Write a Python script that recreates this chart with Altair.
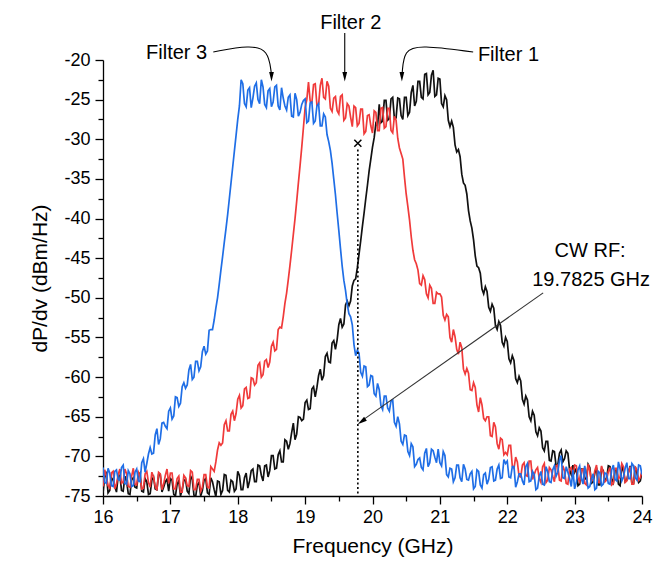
import altair as alt
import pandas as pd

# ---------------- data ----------------
# samples on the 0.05 GHz grid
FREQ = [
    16.0, 16.05, 16.1, 16.15, 16.2, 16.25, 16.3, 16.35, 16.4, 16.45, 16.5, 16.55, 16.6, 16.65, 16.7, 16.75, 16.8, 16.85, 16.9, 16.95,
    17.0, 17.05, 17.1, 17.15, 17.2, 17.25, 17.3, 17.35, 17.4, 17.45, 17.5, 17.55, 17.6, 17.65, 17.7, 17.75, 17.8, 17.85, 17.9, 17.95,
    18.0, 18.05, 18.1, 18.15, 18.2, 18.25, 18.3, 18.35, 18.4, 18.45, 18.5, 18.55, 18.6, 18.65, 18.7, 18.75, 18.8, 18.85, 18.9, 18.95,
    19.0, 19.05, 19.1, 19.15, 19.2, 19.25, 19.3, 19.35, 19.4, 19.45, 19.5, 19.55, 19.6, 19.65, 19.7, 19.75, 19.8, 19.85, 19.9, 19.95,
    20.0, 20.05, 20.1, 20.15, 20.2, 20.25, 20.3, 20.35, 20.4, 20.45, 20.5, 20.55, 20.6, 20.65, 20.7, 20.75, 20.8, 20.85, 20.9, 20.95,
    21.0, 21.05, 21.1, 21.15, 21.2, 21.25, 21.3, 21.35, 21.4, 21.45, 21.5, 21.55, 21.6, 21.65, 21.7, 21.75, 21.8, 21.85, 21.9, 21.95,
    22.0, 22.05, 22.1, 22.15, 22.2, 22.25, 22.3, 22.35, 22.4, 22.45, 22.5, 22.55, 22.6, 22.65, 22.7, 22.75, 22.8, 22.85, 22.9, 22.95,
    23.0, 23.05, 23.1, 23.15, 23.2, 23.25, 23.3, 23.35, 23.4, 23.45, 23.5, 23.55, 23.6, 23.65, 23.7, 23.75, 23.8, 23.85, 23.9, 23.95,
    24.0,
]
# samples half-way between them
FREQ_MID = [
    16.025, 16.075, 16.125, 16.175, 16.225, 16.275, 16.325, 16.375, 16.425, 16.475, 16.525, 16.575, 16.625, 16.675, 16.725, 16.775, 16.825, 16.875, 16.925, 16.975,
    17.025, 17.075, 17.125, 17.175, 17.225, 17.275, 17.325, 17.375, 17.425, 17.475, 17.525, 17.575, 17.625, 17.675, 17.725, 17.775, 17.825, 17.875, 17.925, 17.975,
    18.025, 18.075, 18.125, 18.175, 18.225, 18.275, 18.325, 18.375, 18.425, 18.475, 18.525, 18.575, 18.625, 18.675, 18.725, 18.775, 18.825, 18.875, 18.925, 18.975,
    19.025, 19.075, 19.125, 19.175, 19.225, 19.275, 19.325, 19.375, 19.425, 19.475, 19.525, 19.575, 19.625, 19.675, 19.725, 19.775, 19.825, 19.875, 19.925, 19.975,
    20.025, 20.075, 20.125, 20.175, 20.225, 20.275, 20.325, 20.375, 20.425, 20.475, 20.525, 20.575, 20.625, 20.675, 20.725, 20.775, 20.825, 20.875, 20.925, 20.975,
    21.025, 21.075, 21.125, 21.175, 21.225, 21.275, 21.325, 21.375, 21.425, 21.475, 21.525, 21.575, 21.625, 21.675, 21.725, 21.775, 21.825, 21.875, 21.925, 21.975,
    22.025, 22.075, 22.125, 22.175, 22.225, 22.275, 22.325, 22.375, 22.425, 22.475, 22.525, 22.575, 22.625, 22.675, 22.725, 22.775, 22.825, 22.875, 22.925, 22.975,
    23.025, 23.075, 23.125, 23.175, 23.225, 23.275, 23.325, 23.375, 23.425, 23.475, 23.525, 23.575, 23.625, 23.675, 23.725, 23.775, 23.825, 23.875, 23.925, 23.975,
]

# Filter 1 (black)
FILTER1 = [
    -74.6, -72.2, -74.3, -73.0, -74.5, -72.4, -74.4, -73.1, -74.8, -72.7, -74.0, -72.1, -74.5, -73.2, -74.7, -72.6, -74.2, -72.3, -73.9, -72.9,
    -72.8, -74.8, -73.5, -75.0, -73.1, -74.4, -72.5, -74.9, -73.6, -75.0, -73.0, -74.6, -72.7, -74.2, -73.1, -74.8, -72.3, -74.3, -73.0, -74.4,
    -71.9, -74.2, -72.7, -74.0, -71.8, -73.2, -71.1, -72.4, -71.2, -72.6, -69.9, -71.6, -69.8, -70.7, -67.9, -69.1, -67.0, -67.9, -65.0, -65.5,
    -63.2, -64.1, -61.5, -62.5, -59.8, -60.4, -57.4, -58.1, -55.7, -56.5, -53.4, -53.7, -50.9, -51.0, -48.5, -47.6, -44.5, -41.0, -37.5, -34.0,
    -31.0, -28.0, -25.6, -27.7, -25.1, -27.4, -24.7, -27.3, -24.9, -27.5, -24.7, -26.6, -23.2, -25.2, -22.7, -24.9, -21.7, -24.1, -21.3, -24.4,
    -22.4, -25.9, -25.0, -28.4, -28.5, -31.6, -32.2, -35.5, -36.9, -40.3, -42.7, -46.0, -46.9, -49.5, -49.2, -51.7, -51.3, -54.0, -53.5, -56.1,
    -55.5, -58.2, -57.9, -60.7, -60.5, -63.4, -62.9, -65.5, -64.8, -67.4, -66.8, -69.3, -68.1, -70.6, -69.4, -71.1, -69.2, -70.3, -69.6, -72.3,
    -72.0, -73.7, -71.6, -72.9, -71.0, -73.4, -72.1, -73.6, -71.5, -73.1, -71.2, -72.8, -71.8, -73.5, -71.1, -73.2, -71.9, -73.4, -71.3, -73.3,
    -72.0,
]
FILTER1_MID = [
    -72.6, -74.6, -72.7, -73.8, -72.5, -74.3, -72.5, -74.7, -72.9, -73.9, -72.4, -74.4, -72.8, -74.8, -73.0, -74.1, -72.3, -74.5, -73.2, -74.4,
    -73.0, -75.0, -73.1, -74.2, -72.9, -74.7, -72.9, -75.1, -73.3, -74.3, -72.8, -74.8, -73.2, -75.1, -73.2, -74.3, -72.4, -74.5, -73.2, -74.1,
    -72.4, -74.2, -72.1, -73.1, -71.6, -73.2, -71.2, -73.1, -71.1, -71.8, -69.9, -71.5, -69.3, -70.7, -68.1, -68.4, -65.8, -67.2, -65.1, -65.3,
    -62.9, -64.0, -61.2, -61.3, -59.0, -59.8, -57.0, -58.2, -55.4, -55.3, -52.6, -53.3, -50.4, -50.4, -47.8, -46.2, -42.8, -39.3, -35.8, -32.5,
    -29.8, -28.3, -27.9, -25.1, -27.6, -24.9, -27.4, -24.8, -27.0, -24.7, -27.0, -24.1, -25.8, -22.7, -24.7, -21.8, -24.4, -21.9, -24.6, -22.3,
    -25.5, -24.5, -27.6, -27.7, -30.7, -31.3, -34.4, -35.8, -39.0, -41.2, -44.7, -46.2, -48.9, -48.6, -51.2, -50.8, -53.5, -53.0, -55.6, -55.0,
    -57.7, -57.3, -60.2, -59.9, -62.8, -62.4, -65.0, -64.3, -66.9, -66.4, -68.9, -68.1, -70.5, -69.3, -71.2, -69.6, -70.7, -69.3, -71.7, -71.1,
    -71.5, -73.5, -71.6, -72.7, -71.4, -73.2, -71.4, -73.6, -71.8, -72.8, -71.3, -73.3, -71.7, -73.7, -71.9, -73.0, -71.2, -73.4, -72.1, -73.1,
]

# Filter 2 (red)
FILTER2 = [
    -73.8, -72.5, -74.0, -71.9, -73.5, -71.6, -73.2, -72.2, -73.9, -71.5, -73.6, -72.5, -74.0, -71.9, -73.9, -72.6, -74.3, -72.2, -73.5, -71.6,
    -72.1, -74.1, -72.8, -74.5, -72.4, -73.7, -71.8, -74.2, -72.9, -74.4, -72.3, -73.9, -71.3, -71.9, -69.2, -68.6, -66.0, -66.8, -64.7, -65.5,
    -62.8, -63.9, -61.5, -62.7, -60.1, -61.0, -58.5, -60.0, -58.0, -58.8, -56.1, -56.7, -54.0, -53.8, -50.7, -47.7, -44.0, -40.0, -35.5, -31.0,
    -26.0, -22.8, -25.4, -23.0, -25.6, -22.3, -24.9, -23.3, -26.5, -24.6, -26.8, -24.4, -27.3, -25.8, -28.4, -26.0, -28.0, -26.2, -29.0, -26.9,
    -29.2, -26.6, -28.9, -26.0, -28.4, -26.1, -29.2, -27.6, -31.1, -32.5, -36.9, -40.2, -44.0, -45.7, -48.2, -47.2, -49.5, -48.4, -50.7, -49.3,
    -49.5, -52.2, -52.1, -55.0, -54.0, -56.5, -55.6, -59.0, -58.9, -61.6, -60.7, -63.5, -62.6, -65.2, -65.0, -67.4, -65.7, -68.4, -67.7, -69.8,
    -69.8, -68.6, -71.5, -70.7, -72.6, -70.8, -72.5, -70.6, -72.3, -71.4, -73.3, -70.9, -73.0, -71.7, -73.2, -71.1, -73.1, -71.8, -73.5, -71.4,
    -71.1, -72.7, -71.7, -73.4, -71.0, -73.1, -71.8, -73.3, -71.2, -73.2, -71.9, -73.6, -71.5, -72.8, -70.9, -73.3, -72.0, -73.5, -71.4, -73.0,
    -71.8,
]
FILTER2_MID = [
    -71.7, -73.7, -72.1, -74.1, -72.3, -73.4, -71.6, -73.8, -72.5, -73.5, -72.0, -74.1, -72.2, -73.3, -72.0, -73.8, -72.0, -74.2, -72.4, -73.4,
    -72.1, -74.1, -72.5, -74.5, -72.7, -73.8, -72.0, -74.2, -72.9, -73.9, -72.3, -74.0, -71.6, -70.7, -68.3, -68.3, -65.5, -66.8, -64.3, -64.6,
    -62.3, -63.6, -61.3, -62.6, -60.2, -60.7, -58.2, -59.7, -57.8, -58.1, -55.6, -56.5, -53.7, -52.4, -49.4, -45.9, -42.0, -37.8, -33.3, -28.5,
    -25.0, -25.2, -23.1, -25.7, -23.2, -24.7, -22.7, -26.1, -24.8, -26.4, -24.6, -27.6, -25.5, -27.2, -25.8, -28.3, -26.2, -29.3, -27.0, -28.3,
    -26.4, -28.9, -26.1, -28.6, -26.1, -28.9, -27.1, -29.9, -31.8, -34.8, -38.5, -42.3, -45.2, -46.5, -48.4, -47.7, -50.0, -48.8, -50.7, -49.5,
    -49.9, -52.8, -52.4, -55.6, -54.9, -57.1, -56.3, -59.6, -59.5, -61.7, -61.3, -64.4, -63.5, -65.5, -65.0, -67.5, -66.3, -69.1, -67.9, -69.5,
    -68.6, -71.2, -70.1, -72.5, -71.1, -72.4, -70.6, -72.9, -71.7, -72.8, -71.3, -73.3, -71.4, -72.5, -71.2, -73.0, -71.2, -73.4, -71.6, -72.6,
    -71.2, -73.2, -71.6, -73.6, -71.8, -72.9, -71.1, -73.3, -72.0, -73.0, -71.4, -73.4, -71.5, -72.6, -71.3, -73.1, -71.3, -73.5, -71.7, -72.7,
]

# Filter 3 (blue)
FILTER3 = [
    -71.4, -73.4, -72.1, -73.8, -71.7, -73.0, -71.1, -73.5, -72.2, -73.7, -71.6, -73.2, -70.3, -70.9, -68.9, -69.6, -66.5, -67.8, -65.7, -66.5,
    -63.9, -64.9, -62.6, -63.3, -60.7, -61.0, -58.4, -60.0, -58.0, -58.7, -56.1, -56.7, -54.0, -52.8, -50.0, -46.5, -43.0, -39.5, -35.5, -31.5,
    -27.5, -22.5, -25.5, -23.8, -26.0, -23.3, -25.0, -22.5, -25.6, -23.9, -25.9, -23.4, -25.8, -23.5, -25.8, -24.7, -27.1, -24.2, -27.1, -25.6,
    -24.9, -27.7, -25.3, -27.7, -25.5, -28.3, -27.2, -30.3, -33.0, -37.0, -41.5, -46.0, -49.1, -52.0, -53.4, -57.3, -57.0, -59.9, -58.7, -61.0,
    -59.9, -62.4, -61.6, -64.1, -62.4, -64.3, -62.9, -66.2, -65.9, -68.5, -67.4, -69.9, -68.8, -71.0, -70.2, -71.7, -69.0, -70.8, -69.3, -70.8,
    -70.8, -69.4, -72.3, -71.5, -73.2, -71.1, -72.7, -71.0, -72.9, -72.2, -74.1, -71.7, -73.6, -72.3, -73.5, -71.4, -73.1, -71.6, -72.8, -70.4,
    -70.6, -72.7, -71.3, -73.2, -72.2, -73.6, -70.9, -73.1, -72.3, -74.0, -71.9, -73.6, -71.9, -73.3, -71.2, -72.0, -69.9, -72.8, -72.0, -73.8,
    -74.1, -71.7, -72.8, -71.2, -74.0, -72.9, -74.2, -71.9, -73.7, -72.1, -73.4, -71.7, -72.9, -70.7, -73.1, -71.5, -72.8, -70.9, -72.7, -71.1,
    -72.3,
]
FILTER3_MID = [
    -73.3, -71.5, -73.7, -71.9, -72.9, -71.4, -73.4, -71.8, -73.8, -72.0, -73.1, -70.8, -72.0, -69.7, -69.7, -67.3, -68.5, -65.8, -66.2, -64.3,
    -65.3, -62.5, -63.7, -61.2, -61.4, -59.1, -60.3, -58.0, -59.2, -56.8, -57.1, -54.1, -54.0, -51.3, -48.3, -44.8, -41.3, -37.5, -33.5, -29.5,
    -25.8, -23.0, -25.9, -23.5, -24.8, -22.9, -25.5, -23.4, -26.0, -23.6, -25.3, -23.2, -26.3, -24.8, -26.3, -24.4, -27.2, -25.0, -26.6, -25.1,
    -27.9, -25.4, -28.0, -25.8, -28.3, -26.8, -29.4, -31.4, -35.0, -39.3, -43.8, -47.8, -50.8, -52.4, -55.9, -56.6, -59.4, -58.6, -61.2, -59.8,
    -62.1, -60.8, -63.6, -62.4, -63.9, -63.0, -65.7, -65.0, -68.1, -67.3, -69.4, -68.4, -71.3, -70.4, -71.4, -69.6, -71.3, -69.1, -70.1, -69.1,
    -71.2, -69.9, -72.6, -71.6, -72.7, -71.1, -73.2, -71.6, -73.0, -71.9, -73.8, -71.9, -74.0, -72.1, -72.9, -71.3, -73.0, -71.1, -72.7, -70.9,
    -72.6, -71.3, -73.9, -72.2, -73.1, -71.3, -73.2, -71.9, -74.2, -72.5, -73.5, -71.3, -73.2, -71.7, -72.5, -70.5, -72.7, -71.3, -72.8, -71.7,
    -73.3, -71.2, -73.5, -72.5, -73.8, -72.2, -74.0, -72.1, -73.5, -72.2, -73.5, -71.1, -73.1, -71.6, -72.6, -70.8, -72.8, -71.2, -73.0, -71.2,
]

X_TICKS = [16, 16.5, 17, 17.5, 18, 18.5, 19, 19.5, 20, 20.5, 21, 21.5, 22, 22.5, 23, 23.5, 24]
Y_TICKS = [-75, -72.5, -70, -67.5, -65, -62.5, -60, -57.5, -55, -52.5, -50, -47.5, -45,
           -42.5, -40, -37.5, -35, -32.5, -30, -27.5, -25, -22.5, -20]

# CW RF marker
CW_FREQ = 19.7825
CW_TOP = -30.5

# annotation texts (positions in data units)
TEXT_LABELS = ["Filter 3", "Filter 2", "Filter 1", "CW RF:", "19.7825 GHz"]
TEXT_F = [17.093, 19.677, 22.018, 23.23, 23.245]
TEXT_P = [-19.12, -15.33, -19.37, -44.09, -47.74]

# annotation arrows (control points, data units)
ARROW_ID = ["f3", "f3", "f3", "f3", "f2", "f2", "f1", "f1", "f1", "f1", "cw", "cw"]
ARROW_K = [0, 1, 2, 3, 0, 1, 0, 1, 2, 3, 0, 1]
ARROW_F = [17.637, 18.185, 18.452, 18.497, 19.588, 19.588, 21.494, 20.708, 20.47, 20.441, 22.533, 19.86]
ARROW_P = [-18.99, -18.11, -18.74, -21.6, -16.6, -21.6, -18.99, -18.11, -18.74, -21.6, -49.38, -65.4]
HEAD_F = [18.501, 19.588, 20.436, 19.838]
HEAD_P = [-22.1, -22.1, -22.1, -65.6]
HEAD_ANGLE = [0, 0, 0, 55]

# ---------------- tables ----------------
def series_df(vals, mids, name):
    d = pd.concat([
        pd.DataFrame({"freq": FREQ, "psd": vals}),
        pd.DataFrame({"freq": FREQ_MID, "psd": mids}),
    ]).sort_values("freq")
    d["series"] = name
    return d

df1 = series_df(FILTER1, FILTER1_MID, "Filter 1")
df2 = series_df(FILTER2, FILTER2_MID, "Filter 2")
df3 = series_df(FILTER3, FILTER3_MID, "Filter 3")

text_df = pd.DataFrame({"label": TEXT_LABELS, "freq": TEXT_F, "psd": TEXT_P})
arrow_df = pd.DataFrame({"id": ARROW_ID, "k": ARROW_K, "freq": ARROW_F, "psd": ARROW_P})
head_df = pd.DataFrame({"freq": HEAD_F, "psd": HEAD_P, "angle": HEAD_ANGLE})
cw_line_df = pd.DataFrame({"freq": [CW_FREQ, CW_FREQ], "psd": [CW_TOP - 0.8, -75]})
cw_mark_df = pd.DataFrame({"freq": [CW_FREQ], "psd": [CW_TOP]})

FONT = "Liberation Sans"

xscale = alt.Scale(domain=[16, 24], nice=False, zero=False)
yscale = alt.Scale(domain=[-75, -20], nice=False, zero=False)

xaxis = alt.Axis(
    title="Frequency (GHz)",
    values=X_TICKS,
    labelExpr="datum.value % 1 === 0 ? '' + datum.value : ''",
    tickSize={"condition": {"test": "datum.value % 1 === 0", "value": 8}, "value": 5},
    labelFlush=False,
    labelOverlap=False,
    labelFontSize=18,
    labelPadding=4,
    titlePadding=9,
)
yaxis = alt.Axis(
    title="dP/dv (dBm/Hz)",
    values=Y_TICKS,
    labelExpr="datum.value % 5 === 0 ? '' + datum.value : ''",
    tickSize={"condition": {"test": "datum.value % 5 === 0", "value": 8}, "value": 5},
    labelOverlap=False,
    labelFontSize=18,
    labelPadding=5,
    titlePadding=13,
)

X = alt.X("freq:Q", scale=xscale, axis=xaxis)
Y = alt.Y("psd:Q", scale=yscale, axis=yaxis)


def trace(df, color):
    return alt.Chart(df).mark_line(color=color, strokeWidth=1.7, clip=True).encode(x=X, y=Y)


black = trace(df1, "#111111")
red = trace(df2, "#f03a3a")
blue = trace(df3, "#1f6ee6")

cw_line = alt.Chart(cw_line_df).mark_line(
    color="black", strokeWidth=1.6, strokeDash=[2, 2.5]
).encode(x=X, y=Y)

cw_mark = alt.Chart(cw_mark_df).mark_point(
    shape="M-1,-1L1,1M1,-1L-1,1", size=50, filled=False, color="black", strokeWidth=1.5, opacity=1
).encode(x=X, y=Y)

arrows = alt.Chart(arrow_df).mark_line(
    interpolate="basis", strokeWidth=1.1
).encode(
    x=X, y=Y, detail="id:N", order="k:Q",
    color=alt.condition("datum.id === 'cw'", alt.value("#333333"), alt.value("black")),
)

heads = alt.Chart(head_df).mark_point(
    shape="M0,1L-0.5,-1L0.5,-1Z", size=90, filled=True, color="black", opacity=1, strokeWidth=0
).encode(x=X, y=Y, angle=alt.Angle("angle:Q", scale=None))

texts = alt.Chart(text_df).mark_text(
    font=FONT, fontSize=20, color="black", align="center", baseline="middle"
).encode(x=X, y=Y, text="label:N")

chart = alt.layer(
    black, red, blue, cw_line, cw_mark, arrows, heads, texts
).properties(
    width=539,
    height=436,
    background="white",
    autosize=alt.AutoSizeParams(type="none"),
    padding={"left": 103, "top": 60, "right": 17, "bottom": 67},
).configure_view(
    stroke=None
).configure_axis(
    grid=False,
    domainColor="black",
    domainWidth=1.3,
    tickColor="black",
    tickWidth=1.3,
    labelColor="black",
    labelFont=FONT,
    titleFont=FONT,
    titleFontSize=21,
    titleFontWeight="normal",
    titleColor="black",
)

chart.save("out.html", embed_options={"renderer": "svg", "actions": False})
